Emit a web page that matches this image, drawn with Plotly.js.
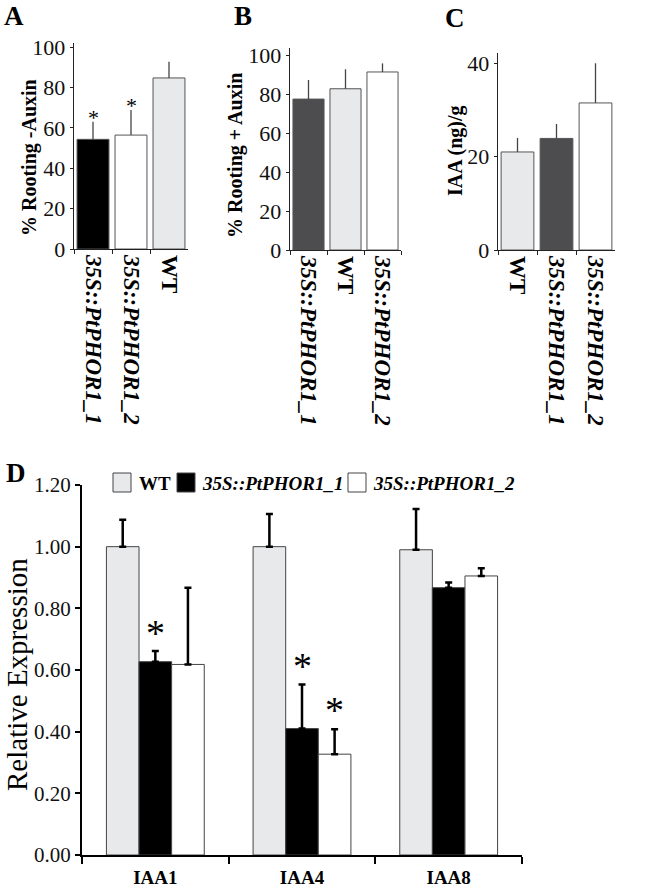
<!DOCTYPE html>
<html>
<head>
<meta charset="utf-8">
<script src="https://cdn.plot.ly/plotly-3.0.1.min.js"></script>
<style>html,body{margin:0;padding:0;background:#fff}#chart{width:667px;height:891px}</style>
</head>
<body>
<div id="chart"></div>
<script>
// Panel A: % rooting without auxin
const catsA = ['35S::PtPHOR1_1', '35S::PtPHOR1_2', 'WT'];
const valsA = [54.3, 56.4, 84.7];
const errA = [8.7, 12.4, 8.0];
const sigA = ['*', '*', ''];
// Panel B: % rooting with auxin
const catsB = ['35S::PtPHOR1_1', 'WT', '35S::PtPHOR1_2'];
const valsB = [77.4, 82.7, 91.3];
const errB = [9.8, 10.0, 4.4];
// Panel C: IAA content (ng/g)
const catsC = ['WT', '35S::PtPHOR1_1', '35S::PtPHOR1_2'];
const valsC = [21.0, 23.9, 31.5];
const errC = [3.0, 3.1, 8.5];
// Panel D: relative expression
const genes = ['IAA1', 'IAA4', 'IAA8'];
const seriesNames = ['WT', '35S::PtPHOR1_1', '35S::PtPHOR1_2'];
const wtExpr = [1.00, 1.00, 0.99];
const wtErr = [0.087, 0.106, 0.132];
const l1Expr = [0.627, 0.41, 0.867];
const l1Err = [0.035, 0.143, 0.017];
const l2Expr = [0.618, 0.327, 0.905];
const l2Err = [0.249, 0.081, 0.025];
const sigL1 = ['*', '*', ''];
const sigL2 = ['', '*', ''];
// Axis titles
const titleA = '% Rooting -Auxin';
const titleB = '% Rooting + Auxin';
const titleC = 'IAA (ng)/g';
const titleD = 'Relative Expression';

const SERIF = 'Liberation Serif, Times New Roman, serif';
const colorOf = {'WT': '#e8e9eb', '35S::PtPHOR1_1': '#000000', '35S::PtPHOR1_2': '#ffffff'};
const colorOfBC = {'WT': '#e8e9eb', '35S::PtPHOR1_1': '#4d4d4f', '35S::PtPHOR1_2': '#ffffff'};
const fmt = c => c === 'WT' ? c : '<i>' + c + '</i>';

function smallBar(cats, vals, errs, cmap, xa, ya) {
  return {
    type: 'bar', x: cats, y: vals, xaxis: xa, yaxis: ya, width: 0.84,
    marker: {color: cats.map(c => cmap[c]), line: {color: '#555', width: 1}},
    error_y: {type: 'data', symmetric: false, array: errs, arrayminus: errs.map(() => 0),
              color: '#444', thickness: 1.3, width: 0},
    showlegend: false, hoverinfo: 'skip'
  };
}
const data = [
  smallBar(catsA, valsA, errA, colorOf, 'x', 'y'),
  smallBar(catsB, valsB, errB, colorOfBC, 'x2', 'y2'),
  smallBar(catsC, valsC, errC, colorOfBC, 'x3', 'y3')
];
const dVals = [wtExpr, l1Expr, l2Expr];
const dErr = [wtErr, l1Err, l2Err];
seriesNames.forEach((n, i) => {
  data.push({
    type: 'bar', name: n, x: genes, y: dVals[i], xaxis: 'x4', yaxis: 'y4',
    marker: {color: colorOf[n], line: {color: '#444', width: 1}},
    error_y: {type: 'data', symmetric: false, array: dErr[i], arrayminus: dErr[i].map(() => 0),
              color: '#000', thickness: 2.5, width: 3.5},
    showlegend: false, hoverinfo: 'skip'
  });
});

const tickF = {family: SERIF, size: 22, color: '#111'};
const catTickF = {family: SERIF, size: 23, color: '#000', weight: 'bold'};
function catAxis(cats, dom, anchor) {
  return {domain: dom, anchor: anchor, type: 'category', tickmode: 'array', tickvals: cats,
    ticktext: cats.map(fmt), tickangle: 90, tickfont: catTickF, showline: true, linecolor: '#222',
    linewidth: 1.3, ticks: 'outside', tickson: 'boundaries', ticklen: 4, tickcolor: '#222',
    showgrid: false, zeroline: false, fixedrange: true};
}
function valAxis(range, dtick, dom, anchor) {
  return {domain: dom, anchor: anchor, range: range, dtick: dtick, tick0: 0, tickfont: tickF,
    showline: true, linecolor: '#222', linewidth: 1.3, ticks: 'outside', ticklen: 3, tickcolor: '#222',
    showgrid: false, zeroline: false, fixedrange: true};
}

const X = px => px / 667, Y = px => 1 - px / 891;

const annotations = [];
// significance stars, panel A
catsA.forEach((c, i) => {
  if (sigA[i]) annotations.push({xref: 'x', yref: 'y', x: c, y: valsA[i] + errA[i], text: sigA[i],
    showarrow: false, yanchor: 'bottom', yshift: -10, font: {family: SERIF, size: 22, color: '#000'}});
});
// significance stars, panel D
const barPx = (X(522) - X(82)) * 667 / 3 * (1 - 0.333) / 3;
genes.forEach((g, i) => {
  if (sigL1[i]) annotations.push({xref: 'x4', yref: 'y4', x: g, y: l1Expr[i] + l1Err[i], text: sigL1[i],
    showarrow: false, yanchor: 'bottom', yshift: -5, font: {family: SERIF, size: 38, color: '#000'}});
  if (sigL2[i]) annotations.push({xref: 'x4', yref: 'y4', x: g, y: l2Expr[i] + l2Err[i], text: sigL2[i],
    showarrow: false, yanchor: 'bottom', yshift: -4, xshift: barPx, font: {family: SERIF, size: 38, color: '#000'}});
});
// axis titles (rotated)
[[titleA, 30, 158, 20, true], [titleB, 236, 156, 20, true], [titleC, 455, 151, 20, true], [titleD, 17, 675, 29, false]]
  .forEach(([t, x, y, s, b]) => {
    annotations.push({xref: 'paper', yref: 'paper', x: X(x), y: Y(y), xanchor: 'center', yanchor: 'middle',
      textangle: -90, text: b ? '<b>' + t + '</b>' : t, showarrow: false, font: {family: SERIF, size: s, color: '#000'}});
  });
// panel letters
[['A', 2, 16], ['B', 232, 16], ['C', 443, 18], ['D', 4, 473]].forEach(([t, x, y]) => {
  annotations.push({xref: 'paper', yref: 'paper', x: X(x), y: Y(y), xanchor: 'left', yanchor: 'middle',
    text: '<b>' + t + '</b>', showarrow: false, font: {family: SERIF, size: 27, color: '#000'}});
});
// legend for panel D
const legPos = [[113, 137], [177, 200], [348, 371]];
const shapes = [];
seriesNames.forEach((n, i) => {
  const [sx, tx] = legPos[i];
  shapes.push({type: 'rect', xref: 'paper', yref: 'paper', x0: X(sx), x1: X(sx + 18), y0: Y(492), y1: Y(473),
    fillcolor: colorOf[n], line: {color: '#444', width: 1}});
  annotations.push({xref: 'paper', yref: 'paper', x: X(tx), y: Y(483), xanchor: 'left', yanchor: 'middle',
    text: '<b>' + fmt(n) + '</b>', showarrow: false, font: {family: SERIF, size: 19, color: '#000'}});
});

const layout = {
  width: 667, height: 891, margin: {l: 0, r: 0, t: 0, b: 0},
  paper_bgcolor: '#fff', plot_bgcolor: 'rgba(0,0,0,0)',
  barmode: 'group', bargap: 0.333, bargroupgap: 0,
  showlegend: false,
  xaxis: catAxis(catsA, [X(74), X(188)], 'y'),
  yaxis: valAxis([0, 102], 20, [Y(249), Y(43)], 'x'),
  xaxis2: catAxis(catsB, [X(290), X(401)], 'y2'),
  yaxis2: valAxis([0, 103.6], 20, [Y(250), Y(48)], 'x2'),
  xaxis3: catAxis(catsC, [X(498), X(615)], 'y3'),
  yaxis3: valAxis([0, 42.2], 20, [Y(250), Y(53)], 'x3'),
  xaxis4: {domain: [X(82), X(522)], anchor: 'y4', type: 'category', tickfont: {family: SERIF, size: 19, color: '#000', weight: 'bold'},
    showline: true, linecolor: '#000', linewidth: 2, ticks: 'outside', tickson: 'boundaries', ticklen: 7,
    tickwidth: 2, tickcolor: '#000', ticklabelstandoff: 4, showgrid: false, zeroline: false, fixedrange: true},
  yaxis4: {domain: [Y(855), Y(485)], anchor: 'x4', range: [0, 1.2], dtick: 0.2, tick0: 0, tickformat: '.2f',
    tickfont: {family: SERIF, size: 21, color: '#111'}, showline: true, linecolor: '#000', linewidth: 2,
    ticks: 'outside', ticklen: 5, tickwidth: 2, tickcolor: '#000', showgrid: false, zeroline: false, fixedrange: true},
  annotations: annotations,
  shapes: shapes
};
Plotly.newPlot('chart', data, layout, {displayModeBar: false, staticPlot: true});
</script>
</body>
</html>
